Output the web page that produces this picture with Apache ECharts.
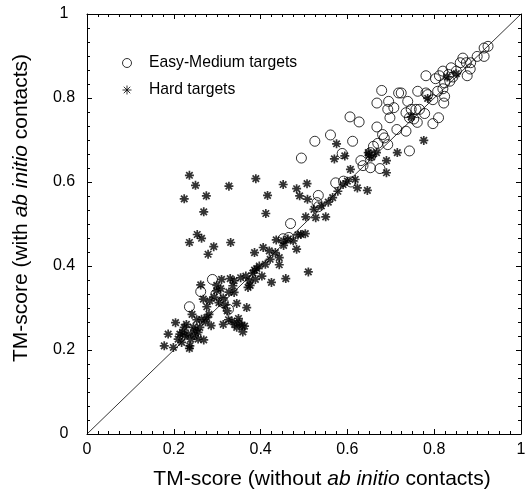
<!DOCTYPE html>
<html>
<head>
<meta charset="utf-8">
<script src="https://cdn.jsdelivr.net/npm/echarts@6/dist/echarts.min.js"></script>
<style>
  html, body { margin: 0; padding: 0; background: #fff; }
  #chart { width: 528px; height: 494px; }
</style>
</head>
<body>
<div id="chart"></div>
<script>
// TM-score pairs: [without ab initio contacts, with ab initio contacts]
const easyPoints = [
  [0.924, 0.923], [0.915, 0.919], [0.899, 0.899], [0.915, 0.899], [0.866, 0.895],
  [0.860, 0.884], [0.874, 0.884], [0.884, 0.884], [0.839, 0.872], [0.851, 0.864],
  [0.883, 0.869], [0.876, 0.853], [0.820, 0.864], [0.833, 0.856], [0.843, 0.850],
  [0.803, 0.846], [0.812, 0.853], [0.781, 0.853], [0.824, 0.836], [0.836, 0.840],
  [0.808, 0.816], [0.820, 0.822], [0.824, 0.804], [0.822, 0.788], [0.785, 0.808],
  [0.781, 0.812], [0.797, 0.796], [0.762, 0.816], [0.679, 0.818], [0.718, 0.812],
  [0.724, 0.812], [0.668, 0.788], [0.695, 0.792], [0.707, 0.777], [0.693, 0.773],
  [0.698, 0.753], [0.714, 0.725], [0.739, 0.792], [0.735, 0.765], [0.747, 0.773],
  [0.758, 0.773], [0.766, 0.773], [0.778, 0.763], [0.753, 0.750], [0.743, 0.753],
  [0.761, 0.742], [0.810, 0.753], [0.797, 0.739], [0.735, 0.721], [0.743, 0.674],
  [0.606, 0.755], [0.627, 0.743], [0.561, 0.712], [0.525, 0.697], [0.612, 0.697],
  [0.668, 0.731], [0.681, 0.713], [0.685, 0.705], [0.670, 0.692], [0.693, 0.689],
  [0.653, 0.670], [0.588, 0.668], [0.494, 0.657], [0.631, 0.651], [0.636, 0.639],
  [0.653, 0.634], [0.675, 0.632], [0.608, 0.600], [0.573, 0.598], [0.533, 0.568],
  [0.530, 0.551], [0.533, 0.541], [0.469, 0.501], [0.465, 0.468], [0.452, 0.465],
  [0.289, 0.368], [0.262, 0.339], [0.236, 0.303], [0.654, 0.662], [0.660, 0.685],
  [0.297, 0.333], [0.314, 0.313], [0.326, 0.297], [0.591, 0.602]
];

const hardPoints = [
  [0.236, 0.616], [0.224, 0.560], [0.250, 0.592], [0.275, 0.567], [0.269, 0.529],
  [0.327, 0.590], [0.389, 0.608], [0.416, 0.568], [0.412, 0.525], [0.452, 0.594],
  [0.483, 0.584], [0.490, 0.567], [0.507, 0.596], [0.508, 0.559], [0.527, 0.515],
  [0.550, 0.517], [0.575, 0.691], [0.570, 0.655], [0.594, 0.662], [0.607, 0.630],
  [0.623, 0.586], [0.646, 0.580], [0.648, 0.670], [0.690, 0.651], [0.690, 0.622],
  [0.715, 0.670], [0.776, 0.699], [0.254, 0.475], [0.236, 0.456], [0.264, 0.466],
  [0.292, 0.446], [0.331, 0.456], [0.279, 0.428], [0.386, 0.432], [0.406, 0.444],
  [0.420, 0.436], [0.436, 0.462], [0.453, 0.449], [0.483, 0.440], [0.443, 0.420],
  [0.443, 0.403], [0.425, 0.361], [0.458, 0.370], [0.510, 0.386], [0.504, 0.517],
  [0.493, 0.475], [0.503, 0.477], [0.486, 0.474], [0.475, 0.460], [0.556, 0.552],
  [0.566, 0.563], [0.578, 0.578], [0.590, 0.594], [0.600, 0.602], [0.618, 0.606],
  [0.650, 0.664], [0.656, 0.660], [0.747, 0.755], [0.785, 0.799], [0.830, 0.850],
  [0.851, 0.858], [0.667, 0.670], [0.523, 0.535], [0.540, 0.543],
  [0.178, 0.210], [0.187, 0.238], [0.199, 0.206], [0.204, 0.265], [0.210, 0.226],
  [0.218, 0.218], [0.220, 0.242], [0.224, 0.254], [0.229, 0.261], [0.236, 0.204],
  [0.237, 0.210], [0.239, 0.226], [0.242, 0.285], [0.245, 0.254], [0.249, 0.246],
  [0.253, 0.272], [0.256, 0.242], [0.260, 0.254], [0.264, 0.273], [0.269, 0.224],
  [0.273, 0.267], [0.276, 0.277], [0.281, 0.285], [0.286, 0.258], [0.262, 0.355],
  [0.276, 0.303], [0.283, 0.317], [0.293, 0.326], [0.299, 0.341], [0.304, 0.313],
  [0.308, 0.346], [0.310, 0.368], [0.314, 0.324], [0.318, 0.307], [0.323, 0.293],
  [0.327, 0.338], [0.330, 0.370], [0.336, 0.353], [0.339, 0.337], [0.345, 0.311],
  [0.349, 0.275], [0.314, 0.261], [0.326, 0.272], [0.334, 0.269], [0.340, 0.261],
  [0.345, 0.254], [0.351, 0.265], [0.357, 0.258], [0.359, 0.243], [0.363, 0.257],
  [0.368, 0.301], [0.371, 0.349], [0.376, 0.354], [0.374, 0.365], [0.382, 0.383],
  [0.386, 0.390], [0.391, 0.394], [0.397, 0.400], [0.403, 0.376], [0.366, 0.376],
  [0.354, 0.372], [0.299, 0.354], [0.268, 0.321], [0.434, 0.432], [0.453, 0.460],
  [0.463, 0.464], [0.411, 0.404], [0.422, 0.416], [0.388, 0.368], [0.339, 0.365],
  [0.256, 0.226], [0.233, 0.238], [0.247, 0.234], [0.214, 0.238], [0.225, 0.234]
];

const diagonal = [[0, 0], [1, 1]];
const seriesNames = ['Easy-Medium targets', 'Hard targets'];
const xName = 'TM-score (without {i|ab initio} contacts)';
const yName = 'TM-score (with {i|ab initio} contacts)';

const FONT = 'Liberation Sans, Arial, sans-serif';
const asterisk = 'path://M5,0 L5,10 M0,5 L10,5 M1.4,1.4 L8.6,8.6 M1.4,8.6 L8.6,1.4';

const chart = echarts.init(document.getElementById('chart'), null, { renderer: 'canvas' });

const baseAxis = {
  type: 'value',
  min: 0,
  max: 1,
  interval: 0.2,
  axisLine: { show: true, onZero: false, lineStyle: { color: '#000', width: 1 } },
  axisTick: { show: true, inside: true, length: 5, lineStyle: { color: '#000' } },
  minorTick: { show: true, splitNumber: 8, length: 3, lineStyle: { color: '#000' } },
  splitLine: { show: false },
  axisLabel: { color: '#000', fontSize: 16, fontFamily: FONT }
};

const nameStyle = size => ({
  color: '#000', fontSize: size, fontFamily: FONT,
  rich: { i: { fontStyle: 'italic', fontSize: size, fontFamily: FONT, color: '#000' } }
});

const fmt = v => (v === 0 || v === 1) ? String(v) : v.toFixed(1);

const option = {
  backgroundColor: '#fff',
  animation: false,
  grid: { left: 87, right: 7, top: 14, bottom: 60, containLabel: false, outerBoundsMode: 'none' },
  legend: {
    orient: 'vertical',
    left: 117,
    top: 50,
    itemWidth: 34,
    itemHeight: 9,
    itemGap: 11,
    data: seriesNames,
    itemStyle: { borderWidth: 1 },
    textStyle: { color: '#000', fontSize: 15.7, fontFamily: FONT }
  },
  xAxis: [
    Object.assign({}, baseAxis, {
      position: 'bottom',
      name: xName,
      nameLocation: 'middle',
      nameGap: 35,
      axisLabel: Object.assign({}, baseAxis.axisLabel, { margin: 8, formatter: fmt }),
      nameTextStyle: Object.assign(nameStyle(21), { padding: [0, 0, 0, 36] })
    }),
    Object.assign({}, baseAxis, {
      position: 'top',
      axisLabel: { show: false }
    })
  ],
  yAxis: [
    Object.assign({}, baseAxis, {
      position: 'left',
      name: yName,
      nameLocation: 'middle',
      nameGap: 55,
      minorTick: Object.assign({}, baseAxis.minorTick, { splitNumber: 6 }),
      axisLabel: Object.assign({}, baseAxis.axisLabel, { margin: 23, align: 'center', formatter: fmt }),
      nameTextStyle: Object.assign(nameStyle(21), { padding: [0, 0, 0, 32] })
    }),
    Object.assign({}, baseAxis, {
      position: 'right',
      minorTick: Object.assign({}, baseAxis.minorTick, { splitNumber: 6 }),
      axisLabel: { show: false }
    })
  ],
  series: [
    {
      type: 'line',
      data: diagonal,
      symbol: 'none',
      silent: true,
      lineStyle: { color: '#000', width: 0.8 },
      z: 1
    },
    {
      name: seriesNames[0],
      type: 'scatter',
      data: easyPoints,
      symbol: 'circle',
      symbolSize: 10,
      itemStyle: { color: 'rgba(0,0,0,0)', borderColor: '#000', borderWidth: 1 },
      z: 2
    },
    {
      name: seriesNames[1],
      type: 'scatter',
      data: hardPoints,
      symbol: asterisk,
      symbolSize: 9,
      itemStyle: { color: 'rgba(0,0,0,0)', borderColor: '#000', borderWidth: 1.7 },
      z: 3
    }
  ]
};

chart.setOption(option);
</script>
</body>
</html>
